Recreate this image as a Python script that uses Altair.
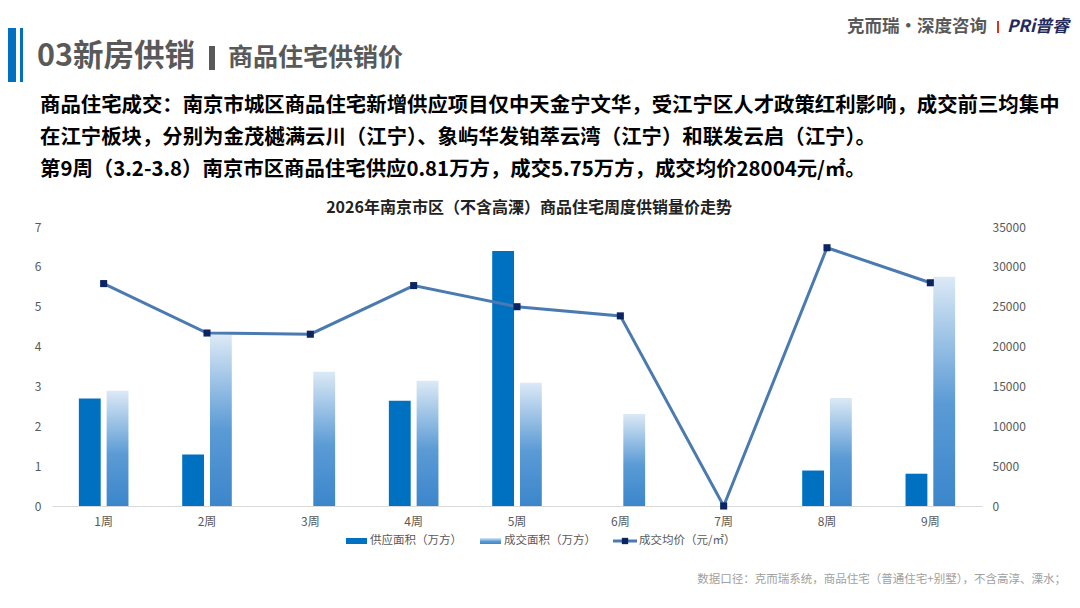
import altair as alt
import pandas as pd

weeks = ["1周", "2周", "3周", "4周", "5周", "6周", "7周", "8周", "9周"]
supply = [2.70, 1.29, 0, 2.64, 6.40, 0, 0, 0.89, 0.81]
sales = [2.89, 4.29, 3.37, 3.14, 3.09, 2.31, 0, 2.71, 5.75]
price = [27900, 21700, 21550, 27650, 25000, 23850, 0, 32400, 28004]

series_names = ["供应面积（万方）", "成交面积（万方）", "成交均价（元/㎡）"]
left_ticks = [0, 1, 2, 3, 4, 5, 6, 7]
right_ticks = [0, 5000, 10000, 15000, 20000, 25000, 30000, 35000]

header_main = "03新房供销"
header_sub = "商品住宅供销价"
logo_text = "克而瑞·深度咨询"
logo_brand = "PRi普睿"
para_lines = [
    "商品住宅成交：南京市城区商品住宅新增供应项目仅中天金宁文华，受江宁区人才政策红利影响，成交前三均集中",
    "在江宁板块，分别为金茂樾满云川（江宁）、象屿华发铂萃云湾（江宁）和联发云启（江宁）。",
    "第9周（3.2-3.8）南京市区商品住宅供应0.81万方，成交5.75万方，成交均价28004元/㎡。",
]
chart_title = "2026年南京市区（不含高溧）商品住宅周度供销量价走势"
footnote = "数据口径：克而瑞系统，商品住宅（普通住宅+别墅），不含高淳、溧水；"

FONT = "Noto Sans CJK SC"
BLUE = "#0070c0"
LINE = "#4a7ab0"
NAVY = "#0b2563"
GRAY = "#595959"

grad = {
    "gradient": "linear", "x1": 0, "y1": 0, "x2": 0, "y2": 1,
    "stops": [
        {"offset": 0, "color": "#dce9f6"},
        {"offset": 0.55, "color": "#5b9bd5"},
        {"offset": 1, "color": "#3b86cb"},
    ],
}

bar_df = pd.DataFrame({
    "week": weeks * 2,
    "series": [series_names[0]] * 9 + [series_names[1]] * 9,
    "value": supply + sales,
})
price_df = pd.DataFrame({"week": weeks, "price": price})
one = pd.DataFrame({"k": [0]})

xscale = alt.Scale(domain=weeks, paddingInner=0.52, paddingOuter=0.26)
xaxis = alt.Axis(title=None, labelAngle=0, ticks=False, domainColor="#d9d9d9",
                 labelPadding=10, labelFontSize=12, labelColor=GRAY, labelFont=FONT)

bars = alt.Chart(bar_df).mark_bar().encode(
    x=alt.X("week:N", scale=xscale, axis=xaxis, sort=weeks),
    xOffset=alt.XOffset("series:N", scale=alt.Scale(domain=series_names[:2], paddingInner=0.214, paddingOuter=0)),
    y=alt.Y("value:Q", scale=alt.Scale(domain=[0, 7], nice=False),
            axis=alt.Axis(title=None, values=left_ticks, domain=False, ticks=False, grid=False,
                          labelPadding=11, labelFontSize=12, labelColor=GRAY, labelFont=FONT, orient="left")),
    color=alt.when(alt.datum.series == series_names[1]).then(alt.value(grad)).otherwise(alt.value(BLUE)),
)

raxis = alt.Axis(title=None, values=right_ticks, domain=False, ticks=False, grid=False, format="d",
                 labelPadding=10, labelFontSize=12, labelColor=GRAY, labelFont=FONT, orient="right")
yprice = alt.Y("price:Q", scale=alt.Scale(domain=[0, 35000], nice=False), axis=raxis)
line = alt.Chart(price_df).mark_line(color=LINE, strokeWidth=3).encode(
    x=alt.X("week:N", scale=xscale, axis=xaxis, sort=weeks), y=yprice)
pts = alt.Chart(price_df).mark_point(shape="square", filled=True, size=50, color=NAVY, opacity=1).encode(
    x=alt.X("week:N", scale=xscale, axis=xaxis, sort=weeks), y=yprice)
price_layer = alt.layer(line, pts)


def txt(s, x, y, size, color="#000000", weight="bold", align="left", style="normal", baseline="middle"):
    return alt.Chart(one).mark_text(align=align, baseline=baseline, fontSize=size, fontWeight=weight,
                                    font=FONT, color=color, fontStyle=style).encode(
        x=alt.value(x), y=alt.value(y), text=alt.value(s))


def rect(x1, x2, y1, y2, color):
    return alt.Chart(one).mark_rect(color=color).encode(
        x=alt.value(x1), x2=alt.value(x2), y=alt.value(y1), y2=alt.value(y2))


deco = [
    rect(-44, -36, -199, -145, BLUE),
    rect(-32, -29, -199, -145, BLUE),
    txt(header_main, -15, -170, 30.5, GRAY),
    rect(157, 163, -181, -157, GRAY),
    txt(header_sub, 176, -169, 25, GRAY),
    txt(logo_text, 795, -200, 17.5, GRAY),
    rect(945, 947, -206, -194, "#e0301e"),
    txt(logo_brand, 955, -200, 17, "#1f2a5a", style="italic"),
    txt(para_lines[0], -12, -121, 20.4),
    txt(para_lines[1], -12, -89, 20.4),
    txt(para_lines[2], -12, -57, 20.4),
    txt(chart_title, 477, -19, 16, "#222222", align="center"),
    # legend
    rect(294, 315, 311, 317, BLUE),
    txt(series_names[0], 318, 314, 11.5, GRAY, weight="normal"),
    rect(428, 449, 311, 317, grad),
    txt(series_names[1], 452, 314, 11.5, GRAY, weight="normal"),
    alt.Chart(one).mark_rule(color=LINE, strokeWidth=3).encode(
        x=alt.value(561), x2=alt.value(585), y=alt.value(314)),
    alt.Chart(one).mark_point(shape="square", filled=True, size=40, color=NAVY, opacity=1).encode(
        x=alt.value(573), y=alt.value(314)),
    txt(series_names[2], 587, 314, 11.5, GRAY, weight="normal"),
    txt(footnote, 1014, 353, 11.5, "#a0a0a0", weight="normal", align="right"),
]

chart = alt.layer(bars, price_layer, *deco).resolve_scale(y="independent").properties(
    width=930, height=279,
    padding={"left": 44, "top": 219, "right": 90, "bottom": 94},
    autosize=alt.AutoSizeParams(type="none"),
).configure_view(stroke=None)

chart.save("out.html", embed_options={"renderer": "svg", "actions": False})
